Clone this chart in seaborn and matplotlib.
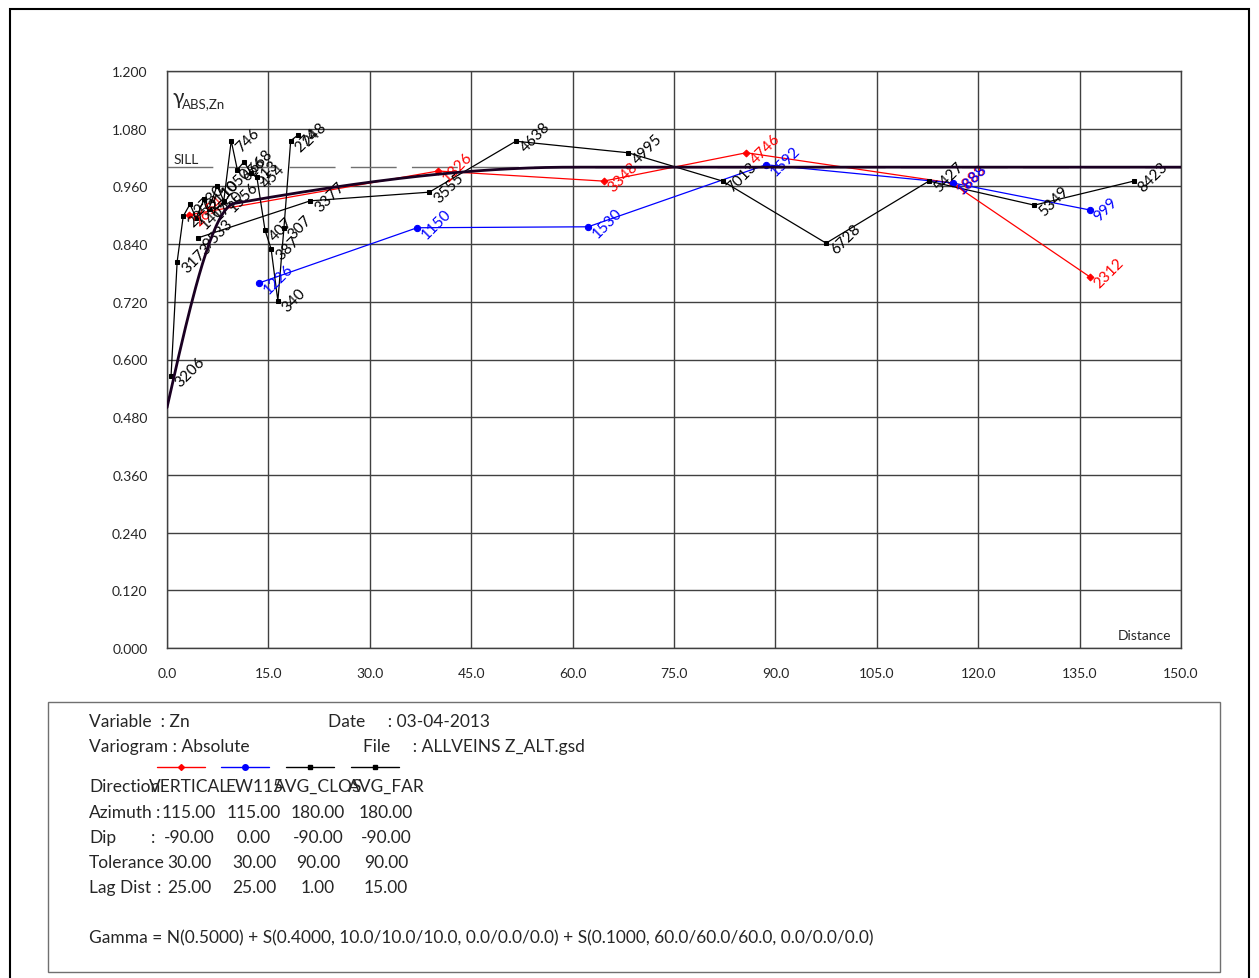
import numpy as np
import pandas as pd
import matplotlib
matplotlib.use("Agg")
from matplotlib import pyplot as plt
from matplotlib.lines import Line2D
from matplotlib.patches import Rectangle
import seaborn as sns

vert_dist = [3.3, 40.1, 64.6, 85.7, 116.1, 136.5]
vert_gamma = [0.901, 0.992, 0.971, 1.030, 0.967, 0.772]
vert_pairs = ["2654", "1326", "3348", "4746", "1883", "2312"]

ew_dist = [13.6, 37.0, 62.3, 88.6, 116.3, 136.5]
ew_gamma = [0.759, 0.874, 0.876, 1.005, 0.967, 0.911]
ew_pairs = ["1226", "1150", "1530", "1592", "1888", "999"]

clos_dist = [0.6, 1.5, 2.4, 3.4, 4.3, 5.5, 6.2, 7.4, 8.4, 9.5,
             10.4, 11.4, 12.4, 13.3, 14.5, 15.4, 16.4, 17.3, 18.3, 19.4]
clos_gamma = [0.566, 0.803, 0.898, 0.923, 0.894, 0.934, 0.913, 0.961, 0.930, 1.055,
              0.995, 1.011, 0.988, 0.979, 0.869, 0.830, 0.722, 0.874, 1.055, 1.067]
clos_pairs = ["3206", "3173", "2953", "2730", "1405", "2110", "1750", "1050", "1556", "746",
              "656", "668", "513", "454", "407", "387", "340", "307", "274", "248"]

far_dist = [4.6, 21.2, 38.8, 51.6, 68.2, 82.2, 97.5, 112.7, 128.3, 143.0]
far_gamma = [0.853, 0.930, 0.948, 1.054, 1.030, 0.971, 0.842, 0.971, 0.921, 0.971]
far_pairs = ["9533", "3377", "3555", "4638", "4995", "7013", "6728", "5427", "5349", "8423"]

# Model: N(0.5) + S(0.4, 10) + S(0.1, 60)
nugget = 0.5
sph_sills = [0.4, 0.1]
sph_ranges = [10.0, 60.0]
sill = nugget + sum(sph_sills)

def spherical(h, c, a):
    r = np.minimum(h / a, 1.0)
    return c * (1.5 * r - 0.5 * r ** 3)

model_h = np.linspace(0, 150, 601)
model_g = nugget + sum(spherical(model_h, c, a) for c, a in zip(sph_sills, sph_ranges))

sns.set_theme(style="white")
plt.rcParams["font.family"] = ["Lato", "DejaVu Sans"]

W, H = 1259, 979
fig = plt.figure(figsize=(W / 100, H / 100), dpi=100)
ax = fig.add_axes([167 / W, 1 - 649 / H, (1181 - 167) / W, (649 - 72) / H])

series = [
    (vert_dist, vert_gamma, vert_pairs, "#ff0000", "D", 3.5),
    (ew_dist, ew_gamma, ew_pairs, "#0000ff", "o", 4.5),
    (clos_dist, clos_gamma, clos_pairs, "black", "s", 3.5),
    (far_dist, far_gamma, far_pairs, "black", "s", 3.5),
]

# sill reference line
ax.plot([0, 150], [sill, sill], color="#707070", lw=1, linestyle=(0, (33, 11)), zorder=1)
ax.text(1.0, sill + 0.004, "SILL", fontsize=10, va="bottom", ha="left")

for d, g, lab, col, mk, ms in series:
    df = pd.DataFrame({"dist": d, "gamma": g})
    sns.lineplot(data=df, x="dist", y="gamma", ax=ax, sort=False, color=col, lw=0.9,
                 marker=mk, markersize=ms, markeredgecolor=col, zorder=2)
    for x, y, t in zip(d, g, lab):
        ax.annotate(t, (x, y), xytext=(5, -6), textcoords="offset points", rotation=45,
                    rotation_mode="anchor", ha="left", va="center", fontsize=11, color=col)

sns.lineplot(x=model_h, y=model_g, ax=ax, color="#1a0022", lw=2, zorder=3)

ax.set_xlim(0, 150)
ax.set_ylim(0, 1.2)
ax.set_xticks(np.arange(0, 151, 15))
ax.set_yticks(np.arange(0, 1.21, 0.12))
ax.set_xticklabels([f"{v:.1f}" for v in np.arange(0, 151, 15)], fontsize=10)
ax.set_yticklabels([f"{v:.3f}" for v in np.arange(0, 1.21, 0.12)], fontsize=10)
ax.tick_params(length=0, pad=14)
ax.grid(True, color="#404040", lw=1)
ax.set_axisbelow(True)
for s in ax.spines.values():
    s.set_color("#404040")
    s.set_linewidth(1)
ax.set_xlabel("")
ax.set_ylabel("")

ax.text(0.005, 0.955, "γ", transform=ax.transAxes, fontsize=15, va="center", ha="left")
ax.text(0.015, 0.945, "ABS,Zn", transform=ax.transAxes, fontsize=9.5, va="center", ha="left")
ax.text(0.99, 0.012, "Distance", transform=ax.transAxes, fontsize=10, va="bottom", ha="right")

def fx(px):
    return px / W

def fy(py):
    return 1 - py / H

# outer frame and info box
fig.patches.append(Rectangle((fx(10), fy(1000)), fx(1249) - fx(10), fy(10) - fy(1000),
                             transform=fig.transFigure, fill=False, edgecolor="black", lw=1.5))
fig.patches.append(Rectangle((fx(48), fy(973)), fx(1220) - fx(48), fy(703) - fy(973),
                             transform=fig.transFigure, fill=False, edgecolor="#707070", lw=1))

fs = 12.5
fig.text(fx(89), fy(722), "Variable  : Zn", fontsize=fs, va="center")
fig.text(fx(328), fy(722), "Date     : 03-04-2013", fontsize=fs, va="center")
fig.text(fx(89), fy(747), "Variogram : Absolute", fontsize=fs, va="center")
fig.text(fx(363), fy(747), "File     : ALLVEINS Z_ALT.gsd", fontsize=fs, va="center")

# legend line samples
sample_x = [181, 245, 310, 375]
for (d, g, lab, col, mk, ms), cx in zip(series, sample_x):
    fig.add_artist(Line2D([fx(cx - 24), fx(cx + 24)], [fy(768), fy(768)], color=col, lw=1,
                          transform=fig.transFigure))
    fig.add_artist(Line2D([fx(cx)], [fy(768)], color=col, marker=mk, markersize=ms - 0.5,
                          linestyle="none", transform=fig.transFigure))

col_x = [189, 254, 318, 386]
names = ["VERTICAL", "EW115", "AVG_CLOS", "AVG_FAR"]
rows = [
    ("Direction", "", names, 787),
    ("Azimuth", ":", ["115.00", "115.00", "180.00", "180.00"], 813),
    ("Dip", ":", ["-90.00", "0.00", "-90.00", "-90.00"], 838),
    ("Tolerance", "", ["30.00", "30.00", "90.00", "90.00"], 863),
    ("Lag Dist", ":", ["25.00", "25.00", "1.00", "15.00"], 888),
]
colon_x = {"Azimuth": 156, "Dip": 151, "Lag Dist": 157}
for name, colon, vals, py in rows:
    fig.text(fx(89), fy(py), name, fontsize=fs, va="center")
    if colon:
        fig.text(fx(colon_x[name]), fy(py), colon, fontsize=fs, va="center")
    for v, cx in zip(vals, col_x):
        fig.text(fx(cx), fy(py), v, fontsize=fs, va="center", ha="center")

fig.text(fx(89), fy(938),
         "Gamma = N(0.5000) + S(0.4000, 10.0/10.0/10.0, 0.0/0.0/0.0) + S(0.1000, 60.0/60.0/60.0, 0.0/0.0/0.0)",
         fontsize=fs, va="center")

fig.savefig("out.png", dpi=100, facecolor="white")
